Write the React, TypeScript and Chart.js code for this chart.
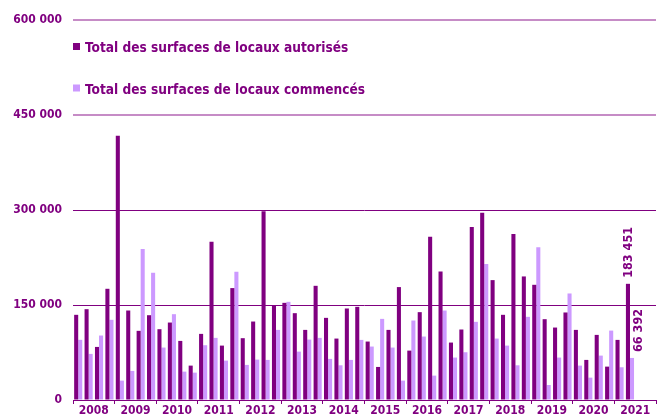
import React, { useEffect, useRef } from 'react';
import { Chart, registerables } from 'chart.js';

Chart.register(...registerables);

const years = ['2008', '2009', '2010', '2011', '2012', '2013', '2014', '2015', '2016', '2017', '2018', '2019', '2020', '2021'];
const quarters = ['T1', 'T2', 'T3', 'T4'];
const categories = years.flatMap((y) => quarters.map((q) => `${y} ${q}`));

const seriesNames = ['Total des surfaces de locaux autorisés', 'Total des surfaces de locaux commencés'];

const autorises = [
  134500, 143400, 83800, 175600,
  417100, 141300, 109200, 133900,
  111800, 122300, 93300, 54300,
  104400, 250000, 85900, 176700,
  97600, 123900, 297900, 149200,
  153400, 137100, 110700, 180300,
  129700, 97000, 144500, 147100,
  92300, 52200, 110700, 178300,
  78000, 138700, 257900, 203000,
  90700, 111300, 273200, 295800,
  189300, 134500, 262100, 195100,
  181900, 127600, 114400, 138200,
  110700, 63300, 102800, 52700,
  94900, 183451,
];

const commences = [
  95000, 72800, 101800, 126600,
  30600, 45900, 238400, 200900,
  82800, 135500, 44800, 43200,
  86500, 98100, 62200, 202500,
  55400, 63800, 63300, 110700,
  155000, 76400, 95400, 98100,
  64900, 54800, 63300, 94900,
  84400, 128100, 82800, 30600,
  125500, 100200, 38500, 141300,
  67000, 75400, 123400, 214700,
  97000, 85900, 54800, 131300,
  241000, 23700, 67000, 168200,
  54300, 35300, 70100, 109600,
  51700, 66392,
];

const yMin = 0;
const yMax = 600000;
const yStep = 150000;

const DARK = '#800080';
const LIGHT = '#cc99ff';
const TEXT = '#800080';
const FONT = "'DejaVu Sans Condensed', 'DejaVu Sans', sans-serif";

const fmt = (v: number) => String(Math.round(v)).replace(/\B(?=(\d{3})+(?!\d))/g, ' ');

const legendPlugin = {
  id: 'customLegend',
  afterDraw(chart: any) {
    const ctx = chart.ctx;
    const a = chart.chartArea;
    const items = [
      { label: seriesNames[0], color: DARK, base: 52 },
      { label: seriesNames[1], color: LIGHT, base: 93.5 },
    ];
    ctx.save();
    items.forEach((it) => {
      ctx.fillStyle = it.color;
      ctx.fillRect(a.left, it.base - 9, 7, 7);
      ctx.fillStyle = TEXT;
      ctx.font = `bold 13.6px ${FONT}`;
      ctx.textAlign = 'left';
      ctx.textBaseline = 'alphabetic';
      ctx.fillText(it.label, a.left + 12, it.base);
    });
    ctx.restore();
  },
};

const lastLabelPlugin = {
  id: 'lastLabels',
  afterDatasetsDraw(chart: any) {
    const ctx = chart.ctx;
    ctx.save();
    ctx.fillStyle = TEXT;
    ctx.font = `bold 12.5px ${FONT}`;
    ctx.textAlign = 'left';
    ctx.textBaseline = 'middle';
    [0, 1].forEach((di) => {
      const meta = chart.getDatasetMeta(di);
      const data = chart.data.datasets[di].data as number[];
      const idx = data.length - 1;
      const el = meta.data[idx];
      if (!el) return;
      const x = el.x + (di === 1 ? 7 : 1);
      const y = el.y - 6;
      ctx.save();
      ctx.translate(x, y);
      ctx.rotate(-Math.PI / 2);
      ctx.fillText(fmt(data[idx]), 0, 0);
      ctx.restore();
    });
    ctx.restore();
  },
};

export default function App() {
  const ref = useRef<HTMLCanvasElement | null>(null);

  useEffect(() => {
    if (!ref.current) return;
    const chart = new Chart(ref.current, {
      type: 'bar',
      data: {
        labels: categories,
        datasets: [
          {
            label: seriesNames[0],
            data: autorises,
            backgroundColor: DARK,
            categoryPercentage: 0.78,
            barPercentage: 1,
          },
          {
            label: seriesNames[1],
            data: commences,
            backgroundColor: LIGHT,
            categoryPercentage: 0.78,
            barPercentage: 1,
          },
        ],
      },
      options: {
        animation: false,
        responsive: true,
        maintainAspectRatio: false,
        layout: { padding: { top: 20, right: 2, left: 0, bottom: 0 } },
        plugins: {
          legend: { display: false },
          tooltip: { enabled: false },
        },
        scales: {
          x: {
            display: false,
            offset: true,
          },
          x2: {
            type: 'category',
            labels: years,
            position: 'bottom',
            offset: true,
            grid: {
              offset: true,
              drawOnChartArea: false,
              drawTicks: true,
              tickLength: 4,
              color: DARK,
            },
            border: { display: true, color: DARK, width: 1 },
            ticks: {
              color: TEXT,
              font: { family: FONT, size: 12, weight: 'bold' },
              padding: 0,
              maxRotation: 0,
              autoSkip: false,
            },
            afterFit: (s: any) => {
              s.height = 19;
            },
          },
          y: {
            min: yMin,
            max: yMax,
            ticks: {
              stepSize: yStep,
              color: TEXT,
              font: { family: FONT, size: 12, weight: 'bold' },
              padding: 11,
              callback: (v: any) => fmt(Number(v)),
            },
            border: { display: false },
            grid: {
              drawTicks: false,
              color: (c: any) => (c.tick && c.tick.value >= 450000 ? 'rgba(128,0,128,0.45)' : DARK),
              lineWidth: (c: any) => (c.tick && c.tick.value >= 450000 ? 2 : 1),
            },
            afterFit: (s: any) => {
              s.width = 73;
            },
          },
        },
      } as any,
      plugins: [legendPlugin, lastLabelPlugin],
    });
    return () => chart.destroy();
  }, []);

  return (
    <div style={{ position: 'fixed', left: 0, top: 0, width: 658, height: 419, background: '#fff' }}>
      <canvas ref={ref} />
    </div>
  );
}
